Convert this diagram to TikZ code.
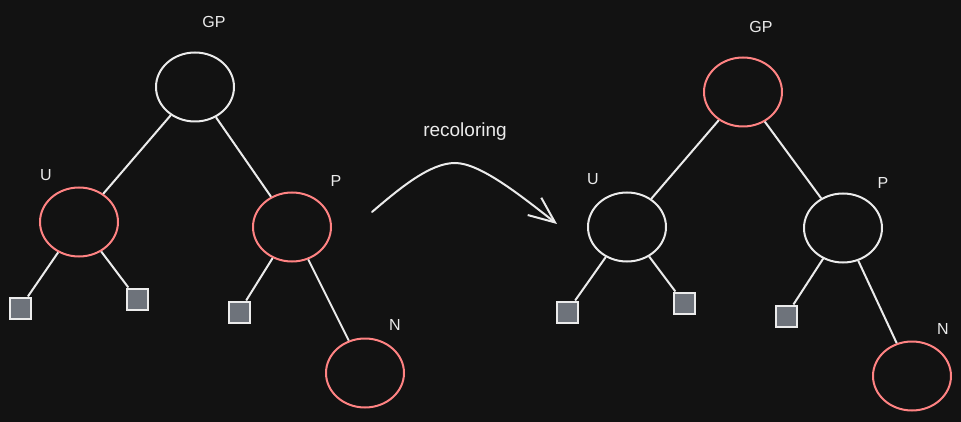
\documentclass[tikz,border=0pt]{standalone}
\usepackage{fontspec}
\setmainfont{Liberation Sans}
\usetikzlibrary{shapes.geometric,arrows.meta}
\definecolor{bg}{HTML}{121212}
\definecolor{wt}{HTML}{EBEBEB}
\definecolor{rd}{HTML}{FF8383}
\definecolor{lg}{HTML}{6E737B}
\tikzset{
  treenode/.style={ellipse, line width=2pt, minimum width=78pt, minimum height=69pt, inner sep=0pt},
  blacknode/.style={treenode, draw=wt},
  rednode/.style={treenode, draw=rd},
  leaf/.style={rectangle, draw=wt, fill=lg, line width=2pt, minimum size=21pt, inner sep=0pt},
  lbl/.style={text=wt, font=\fontsize{16}{18}\selectfont, inner sep=0pt},
  edge/.style={draw=wt, line width=2pt},
}
\begin{document}
\begin{tikzpicture}[x=1pt,y=-1pt]
\fill[bg] (0,0) rectangle (961,422);
\useasboundingbox (0,0) rectangle (961,422);

% left tree
\node[blacknode] (lGP) at (195,87) {};
\node[rednode] (lU) at (79,222) {};
\node[rednode] (lP) at (292,227) {};
\node[rednode] (lN) at (365,373) {};
\node[leaf] (lL1) at (20,308) {};
\node[leaf] (lL2) at (137,299) {};
\node[leaf] (lL3) at (239,312) {};
\node[lbl] (tlGP) at (214,22) {GP};
\node[lbl] (tlU) at (46,175) {U};
\node[lbl] (tlP) at (336,181) {P};
\node[lbl] (tlN) at (395,325) {N};
\draw[edge] (lGP) -- (lU);
\draw[edge] (lGP) -- (lP);
\draw[edge] (lU) -- (lL1);
\draw[edge] (lU) -- (lL2);
\draw[edge] (lP) -- (lL3);
\draw[edge] (lP) -- (lN);

% right tree
\node[rednode] (rGP) at (743,92) {};
\node[blacknode] (rU) at (627,227) {};
\node[blacknode] (rP) at (843,228) {};
\node[rednode] (rN) at (912,376) {};
\node[leaf] (rL1) at (567,312) {};
\node[leaf] (rL2) at (684,303) {};
\node[leaf] (rL3) at (786,316) {};
\node[lbl] (trGP) at (761,27) {GP};
\node[lbl] (trU) at (593,179) {U};
\node[lbl] (trP) at (883,183) {P};
\node[lbl] (trN) at (943,329) {N};
\draw[edge] (rGP) -- (rU);
\draw[edge] (rGP) -- (rP);
\draw[edge] (rU) -- (rL1);
\draw[edge] (rU) -- (rL2);
\draw[edge] (rP) -- (rL3);
\draw[edge] (rP) -- (rN);

% arrow
\coordinate (arrS) at (372,212);
\coordinate (arrE) at (557,224);
\node[lbl, font=\fontsize{19}{21}\selectfont] (rec) at (465,132) {recoloring};
\draw[edge, line cap=round, -{Straight Barb[length=26pt,width=22pt,line width=2pt]}]
  (arrS) .. controls (400,188) and (430,163) .. (455,163)
         .. controls (480,163) and (520,195) .. (arrE);
\end{tikzpicture}
\end{document}
